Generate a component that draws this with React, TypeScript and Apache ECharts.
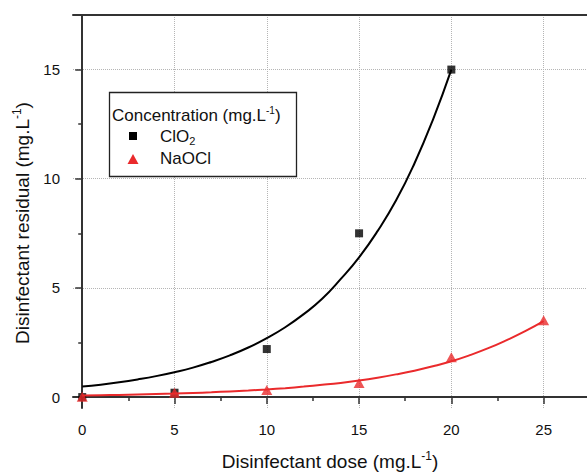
import React, { useEffect, useRef } from "react";
import * as echarts from "echarts";

// Measured points
const clo2Points: [number, number][] = [
  [0, 0.0],
  [5, 0.2],
  [10, 2.2],
  [15, 7.5],
  [20, 15.0],
];
const naoclPoints: [number, number][] = [
  [0, 0.02],
  [5, 0.2],
  [10, 0.32],
  [15, 0.65],
  [20, 1.83],
  [25, 3.52],
];
// Fitted curves
const clo2Fit: [number, number][] = [
  [0, 0.48], [1, 0.57], [2, 0.68], [3, 0.81], [4, 0.96], [5, 1.14],
  [6, 1.35], [7, 1.61], [8, 1.91], [9, 2.27], [10, 2.7], [11, 3.2],
  [12, 3.8], [13, 4.5], [14, 5.4], [15, 6.4], [16, 7.6], [17, 9.0],
  [18, 10.7], [19, 12.7], [20, 15.0],
];
const naoclFit: [number, number][] = [
  [0, 0.075], [1, 0.088], [2, 0.1], [3, 0.12], [4, 0.14], [5, 0.16],
  [6, 0.19], [7, 0.22], [8, 0.26], [9, 0.3], [10, 0.35], [11, 0.41],
  [12, 0.48], [13, 0.56], [14, 0.65], [15, 0.76], [16, 0.89], [17, 1.04],
  [18, 1.21], [19, 1.41], [20, 1.64], [21, 1.92], [22, 2.24], [23, 2.61],
  [24, 3.02], [25, 3.48],
];
const xTickValues = [0, 5, 10, 15, 20, 25];
const yTickValues = [0, 5, 10, 15];

const FONT = "'Liberation Sans', Arial, sans-serif";
const RED = "#ea2a2c";
const AXIS = "#333";
const X_MIN = -0.5;
const X_MAX = 27.35;
const Y_MIN = -0.5;
const Y_MAX = 17.5;

export default function App() {
  const ref = useRef<HTMLDivElement>(null);
  useEffect(() => {
    if (!ref.current) return;
    const chart = echarts.init(ref.current, undefined, { renderer: "svg" });
    const nameRich = {
      a: { fontSize: 19, lineHeight: 23, fontFamily: FONT, color: "#111" },
      s: { fontSize: 12, lineHeight: 12, verticalAlign: "top", fontFamily: FONT, color: "#111" },
    };
    const tickStyle = { color: AXIS, width: 1.5 };
    chart.setOption({
      animation: false,
      backgroundColor: "#fff",
      textStyle: { fontFamily: FONT },
      grid: { left: 73, right: 0, top: 15, bottom: 64, outerBoundsMode: "none", containLabel: false },
      xAxis: [
        {
          type: "value",
          min: X_MIN,
          max: X_MAX,
          splitNumber: 5,
          name: "{a|Disinfectant dose (mg.L}{s|-1}{a|)}",
          nameLocation: "middle",
          nameGap: 42,
          nameTextStyle: { rich: nameRich },
          axisLine: { show: true, lineStyle: { color: AXIS, width: 2 } },
          axisTick: { show: true, customValues: xTickValues, length: 7, lineStyle: tickStyle },
          minorTick: { show: true, splitNumber: 2, length: 4, lineStyle: tickStyle },
          axisLabel: {
            customValues: xTickValues,
            margin: 14,
            fontSize: 15,
            color: "#111",
            fontFamily: FONT,
          },
          splitLine: { show: true, lineStyle: { type: "dotted", color: "#b5b5b5", width: 1 } },
        },
        {
          type: "value",
          position: "top",
          min: X_MIN,
          max: X_MAX,
          axisLine: { show: true, lineStyle: { color: AXIS, width: 2 } },
          axisTick: { show: false },
          axisLabel: { show: false },
          splitLine: { show: false },
        },
      ],
      yAxis: {
        type: "value",
        min: Y_MIN,
        max: Y_MAX,
        splitNumber: 4,
        name: "{a|Disinfectant residual (mg.L}{s|-1}{a|)}",
        nameLocation: "middle",
        nameGap: 38,
        nameTextStyle: { rich: nameRich, padding: [0, 23, 0, 0] },
        axisLine: { show: true, lineStyle: { color: AXIS, width: 2 } },
        axisTick: { show: true, customValues: yTickValues, length: 7, lineStyle: tickStyle },
        minorTick: { show: true, splitNumber: 2, length: 4, lineStyle: tickStyle },
        axisLabel: {
          customValues: yTickValues,
          margin: 13,
          fontSize: 15,
          color: "#111",
          fontFamily: FONT,
        },
        splitLine: { show: true, lineStyle: { type: "dotted", color: "#b5b5b5", width: 1 } },
      },
      series: [
        {
          name: "ClO2 fit",
          type: "line",
          data: clo2Fit,
          smooth: true,
          showSymbol: false,
          lineStyle: { color: "#000", width: 2 },
          z: 2,
        },
        {
          name: "ClO2",
          type: "scatter",
          data: clo2Points,
          symbol: "rect",
          symbolSize: 8,
          itemStyle: { color: "#000" },
          z: 3,
        },
        {
          name: "NaOCl fit",
          type: "line",
          data: naoclFit,
          smooth: true,
          showSymbol: false,
          lineStyle: { color: RED, width: 2 },
          z: 4,
        },
        {
          name: "NaOCl",
          type: "scatter",
          data: naoclPoints,
          symbol: "triangle",
          symbolSize: [11, 10],
          itemStyle: { color: RED },
          z: 5,
        },
      ],
      graphic: [
        {
          type: "rect",
          shape: { x: 109.5, y: 92.5, width: 187, height: 84 },
          style: { fill: "#fff", stroke: "#222", lineWidth: 1.3 },
          z: 10,
        },
        {
          type: "text",
          x: 112,
          y: 115,
          style: {
            text: "{a|Concentration (mg.L}{s|-1}{a|)}",
            verticalAlign: "middle",
            rich: {
              a: { fontSize: 17, lineHeight: 20, fontFamily: FONT, fill: "#111" },
              s: { fontSize: 10, lineHeight: 11, verticalAlign: "top", fontFamily: FONT, fill: "#111" },
            },
          },
          z: 11,
        },
        {
          type: "rect",
          shape: { x: 129, y: 132, width: 8, height: 8 },
          style: { fill: "#000" },
          z: 11,
        },
        {
          type: "text",
          x: 160,
          y: 136,
          style: {
            text: "{a|ClO}{b|2}",
            verticalAlign: "middle",
            rich: {
              a: { fontSize: 17, lineHeight: 20, fontFamily: FONT, fill: "#111" },
              b: { fontSize: 11, lineHeight: 12, verticalAlign: "bottom", fontFamily: FONT, fill: "#111" },
            },
          },
          z: 11,
        },
        {
          type: "polygon",
          shape: { points: [[133, 154], [127.5, 164], [138.5, 164]] },
          style: { fill: RED },
          z: 11,
        },
        {
          type: "text",
          x: 160,
          y: 158,
          style: {
            text: "NaOCl",
            verticalAlign: "middle",
            fontSize: 17,
            fontFamily: FONT,
            fill: "#111",
          },
          z: 11,
        },
      ],
    });
    return () => chart.dispose();
  }, []);
  return (
    <div
      ref={ref}
      style={{ position: "fixed", left: 0, top: 0, width: 587, height: 472, background: "#fff" }}
    />
  );
}
